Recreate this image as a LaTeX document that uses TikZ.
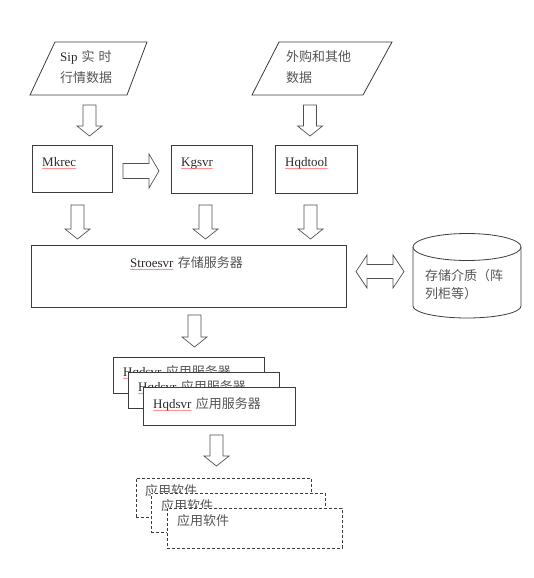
\documentclass[tikz,border=0pt]{standalone}
\usepackage{fontspec}
\setmainfont{Liberation Serif}
\newfontfamily\cjk{Noto Sans CJK SC}
\usetikzlibrary{decorations.pathmorphing}
\definecolor{linec}{HTML}{3C3C3C}
\definecolor{arrc}{HTML}{505050}
\definecolor{txtc}{HTML}{2A2A2A}
\definecolor{cjkc}{HTML}{555555}
\newcommand\blkdown[3]{%
  \draw[blk] (#1-6.5,#2) -- (#1+6.5,#2) -- (#1+6.5,#3-10) -- (#1+12.5,#3-10) -- (#1,#3)
    -- (#1-12.5,#3-10) -- (#1-6.5,#3-10) -- cycle;}
\newcommand\zh[1]{{\cjk\color{cjkc}#1}}
\begin{document}
\begin{tikzpicture}[x=1pt,y=-1pt,
  box/.style={draw=linec, line width=0.8pt, fill=white, inner sep=0pt},
  dbox/.style={draw=linec, line width=0.8pt, fill=white, inner sep=0pt, dash pattern=on 3pt off 2pt},
  blk/.style={draw=arrc, line width=0.7pt, fill=white, line join=miter},
  txt/.style={inner sep=0pt, anchor=base west, font=\fontsize{13}{15}\selectfont, text=txtc},
  squig/.style={draw=red!65, line width=0.35pt, decorate, decoration={snake, amplitude=0.45pt, segment length=2pt}}]
\useasboundingbox[fill=white] (0,0) rectangle (534,578);

% input parallelograms
\draw[box] (30,95) coordinate (in1sw) -- (127,95) -- (147,42) -- (55,42) -- cycle;
\node[txt] (in1a) at (60,62) {Sip\hspace{4pt}\zh{实\hspace{4pt}时}};
\node[txt] (in1b) at (60,82) {\zh{行情数据}};
\draw[box] (252,95) coordinate (in2sw) -- (363,95) -- (392,42) -- (279,42) -- cycle;
\node[txt] (in2a) at (286,62) {\zh{外购和其他}};
\node[txt] (in2b) at (286,82) {\zh{数据}};

\blkdown{89.5}{105}{136}
\blkdown{310}{105}{136}

% second row
\node[box, minimum width=80pt, minimum height=47pt] (mk) at (72,168.5) {};
\node[txt] (mkt) at (42,166) {Mkrec};
\draw[squig] ([yshift=-2.5pt]mkt.base west) -- ([yshift=-2.5pt]mkt.base east);
\node[box, minimum width=81pt, minimum height=48pt] (kg) at (211.5,169) {};
\node[txt] (kgt) at (181,166) {Kgsvr};
\draw[squig] ([yshift=-2.5pt]kgt.base west) -- ([yshift=-2.5pt]kgt.base east);
\node[box, minimum width=82pt, minimum height=48pt] (hq) at (316,169) {};
\node[txt] (hqt) at (285,166) {Hqdtool};
\draw[squig] ([yshift=-2.5pt]hqt.base west) -- ([yshift=-2.5pt]hqt.base east);

% right arrow Mkrec -> Kgsvr
\draw[blk] (123,163.5) -- (149,163.5) -- (149,154) -- (159,171) -- (149,188) -- (149,178.5) -- (123,178.5) -- cycle;

\blkdown{77.5}{205}{239}
\blkdown{205.5}{205}{239}
\blkdown{310.5}{205}{239}

% storage server
\node[box, minimum width=315pt, minimum height=62pt] (st) at (188.5,276) {};
\node[txt] (stw) at (130,267) {Stroesvr};
\node[txt] (stz) at ([xshift=4pt]stw.base east) {\zh{存储服务器}};
\draw[squig] ([yshift=-2.5pt]stw.base west) -- ([yshift=-2.5pt]stw.base east);

% double arrow
\draw[blk] (356,271.5) -- (367,255) -- (367,264.5) -- (393,264.5) -- (393,255) -- (404,271.5)
  -- (393,288) -- (393,278.5) -- (367,278.5) -- (367,288) -- cycle;

% cylinder
\draw[linec, line width=0.8pt, fill=white] (413,247) -- (413,306) arc[start angle=180, end angle=360, x radius=54pt, y radius=12pt] -- (521,247);
\draw[linec, line width=0.8pt, fill=white] (467,247) ellipse [x radius=54pt, y radius=13.5pt];
\node[txt] (cy1) at (425,280) {\zh{存储介质（阵}};
\node[txt] (cy2) at (425,298) {\zh{列柜等）}};

\blkdown{194.5}{315}{347}

% Hqdsvr stack
\node[box, minimum width=151pt, minimum height=36pt] (h1) at (188.5,375) {};
\node[txt] (h1w) at (123,376) {Hqdsvr};
\node[txt] (h1z) at ([xshift=4pt]h1w.base east) {\zh{应用服务器}};
\draw[squig] ([yshift=-2.5pt]h1w.base west) -- ([yshift=-2.5pt]h1w.base east);
\node[box, minimum width=151pt, minimum height=36pt] (h2) at (203.5,390) {};
\node[txt] (h2w) at (138,391) {Hqdsvr};
\node[txt] (h2z) at ([xshift=4pt]h2w.base east) {\zh{应用服务器}};
\draw[squig] ([yshift=-2.5pt]h2w.base west) -- ([yshift=-2.5pt]h2w.base east);
\node[box, minimum width=152pt, minimum height=38pt] (h3) at (219,406) {};
\node[txt] (h3w) at (153,408) {Hqdsvr};
\node[txt] (h3z) at ([xshift=4pt]h3w.base east) {\zh{应用服务器}};
\draw[squig] ([yshift=-2.5pt]h3w.base west) -- ([yshift=-2.5pt]h3w.base east);

\blkdown{216.5}{435}{466}

% application stack
\node[dbox, minimum width=175pt, minimum height=39pt] (a1) at (223.5,497.5) {};
\node[txt] (a1t) at (145,495) {\zh{应用软件}};
\node[dbox, minimum width=174pt, minimum height=39pt] (a2) at (238,512.5) {};
\node[txt] (a2t) at (161,510) {\zh{应用软件}};
\node[dbox, minimum width=175pt, minimum height=40pt] (a3) at (254.5,528) {};
\node[txt] (a3t) at (177,525) {\zh{应用软件}};
\end{tikzpicture}
\end{document}
